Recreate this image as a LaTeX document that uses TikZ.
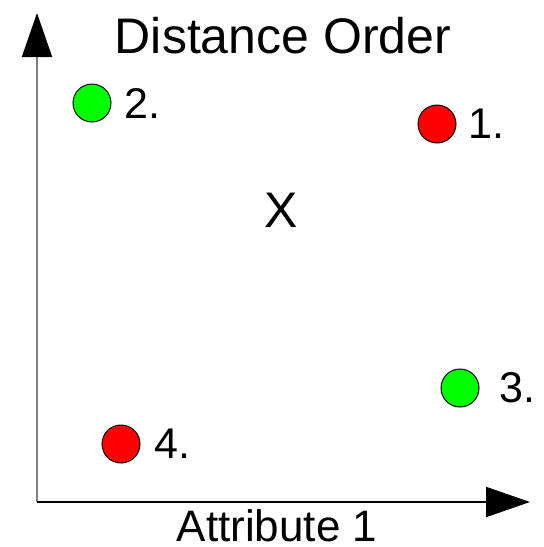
\documentclass[tikz,border=0pt]{standalone}
\usepackage{fontspec}
\setmainfont{Liberation Sans}
\usetikzlibrary{arrows.meta, positioning}

\begin{document}
\begin{tikzpicture}[x=0.5pt, y=-0.5pt,
  axis/.style={line width=1pt, -{Triangle[length=22pt, width=15pt, color=black]}},
  dot/.style={circle, draw=black, line width=0.5pt, minimum size=19pt, inner sep=0pt},
  rank/.style={inner sep=0pt, font=\fontsize{21.5}{21.5}\selectfont},
  caption/.style={inner sep=0pt, font=\fontsize{22}{22}\selectfont}]
  \useasboundingbox (0,0) rectangle (543,547);
  % --- axes ---
  \coordinate (origin) at (37,502);
  \coordinate (ytip) at (37,13);
  \coordinate (xtip) at (530,502);
  \draw[axis, gray] (origin) -- (ytip);
  \draw[axis, black] (origin) -- (xtip);
  \node[caption, font=\fontsize{25}{25}\selectfont] (title) at (283,36) {Distance Order};
  \node[caption] (xlabel) at (277,526) {Attribute 1};
  % --- query point ---
  \node[caption, font=\fontsize{25}{25}\selectfont] (query) at (281,210) {X};
  % --- neighbours ---
  \node[dot, fill=red] (p1) at (437,124) {};
  \node[dot, fill=green] (p2) at (92,103) {};
  \node[dot, fill=green] (p3) at (460,388) {};
  \node[dot, fill=red] (p4) at (121,444) {};
  \node[rank, right=6pt of p1] (r1) {1.};
  \node[rank, right=6.5pt of p2] (r2) {2.};
  \node[rank, right=10pt of p3] (r3) {3.};
  \node[rank, right=7pt of p4] (r4) {4.};
\end{tikzpicture}
\end{document}
